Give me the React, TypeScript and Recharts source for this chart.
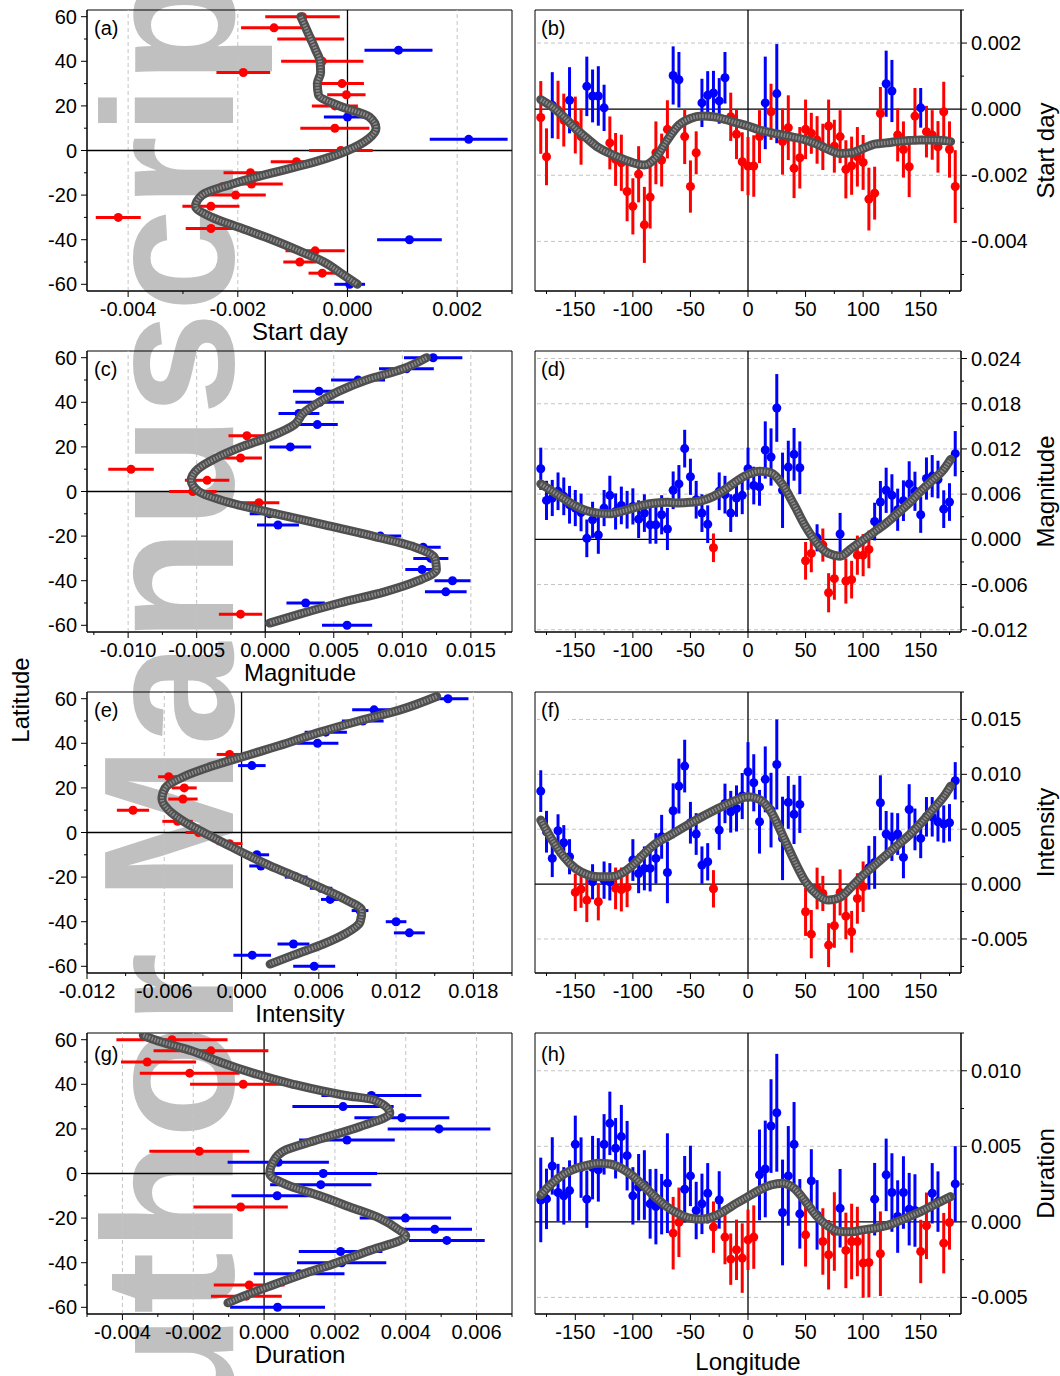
import React from 'react';
import { ScatterChart, Scatter, XAxis, YAxis, ErrorBar, ReferenceLine, ReferenceArea } from 'recharts';

const FONT = '"Liberation Sans", Arial, Helvetica, sans-serif';
const RED = '#ff0000';
const BLUE = '#0000ff';

// ---------- shared axes ----------
const LAT = [60, 55, 50, 45, 40, 35, 30, 25, 20, 15, 10, 5, 0, -5, -10, -15, -20, -25, -30, -35, -40, -45, -50, -55, -60];
const LAT_DOMAIN = [-63, 63];
const LAT_TICKS = [-60, -50, -40, -30, -20, -10, 0, 10, 20, 30, 40, 50, 60];
const LAT_LABELS = [-60, -40, -20, 0, 20, 40, 60];

const LON = [-180, -175, -170, -165, -160, -155, -150, -145, -140, -135, -130, -125,
  -120, -115, -110, -105, -100, -95, -90, -85, -80, -75, -70, -65,
  -60, -55, -50, -45, -40, -35, -30, -25, -20, -15, -10, -5,
  0, 5, 10, 15, 20, 25, 30, 35, 40, 45, 50, 55,
  60, 65, 70, 75, 80, 85, 90, 95, 100, 105, 110, 115,
  120, 125, 130, 135, 140, 145, 150, 155, 160, 165, 170, 175,
  180];
const LON_DOMAIN = [-185, 185];
const LON_TICKS = [-175, -150, -125, -100, -75, -50, -25, 0, 25, 50, 75, 100, 125, 150, 175];
const LON_LABELS = [-150, -100, -50, 0, 50, 100, 150];
const CURVE_LON = [-180, -170, -160, -150, -140, -130, -120, -110, -100, -90, -80, -70, -60, -50, -40, -30, -20, -10,
  0, 10, 20, 30, 40, 50, 60, 70, 80, 90, 100, 110, 120, 130, 140, 150, 160, 170, 176];

// ---------- (a) start day vs latitude ----------
const A_VAL = [-0.00082, -0.00134, -0.00067, 0.00093, -0.00046, -0.0019, -0.0001, -0.00002, -0.00023, 0.0, -0.00023, 0.00221, -0.00012,
  -0.00093, -0.00177, -0.00175, -0.00204, -0.00249, -0.00418, -0.00249, 0.00113, -0.00059, -0.00087, -0.00046, 0.00004];
const A_ERR = [0.00068, 0.0006, 0.00061, 0.00062, 0.00075, 0.00049, 0.0004, 0.00035, 0.00042, 0.00043, 0.00063, 0.00071, 0.00058,
  0.00047, 0.00049, 0.00057, 0.00055, 0.00052, 0.00041, 0.00046, 0.00059, 0.00054, 0.0003, 0.00025, 0.00028];
const A_CURVE_LAT = [60, 55, 50, 45, 40, 35, 30, 25, 20, 15, 10, 5, 0, -5, -10, -15, -20, -25, -30, -35, -40, -45, -50, -55, -60];
const A_CURVE = [-0.00085, -0.00076, -0.00067, -0.00058, -0.0005, -0.00049, -0.00055, -0.00053, -0.00015, 0.0004, 0.00052, 0.00037, 0.0,
  -0.00058, -0.00137, -0.0021, -0.00265, -0.00277, -0.00247, -0.00192, -0.00137, -0.00088, -0.00043, -0.00012, 0.00018];
const A_X_DOMAIN = [-0.00475, 0.003];
const A_X_TICKS = [-0.004, -0.003, -0.002, -0.001, 0, 0.001, 0.002, 0.003];
const A_X_LABELS = [-0.004, -0.002, 0, 0.002];
const A_X_GRID = [-0.004, -0.002, 0.002];

// ---------- (b) start day vs longitude ----------
const B_VAL = [-0.00025, -0.00144, 0.00012, -0.00002, -0.00033, 0.00027, -0.00048, -0.00083, 0.00069, 0.0004, 0.0004, 0.00004,
  -0.00102, -0.00152, -0.00162, -0.00249, -0.00294, -0.00197, -0.0035, -0.00266, -0.00132, -0.00154, -0.00061, 0.00102,
  0.00089, -0.00083, -0.00234, -0.00132, 0.00019, 0.00042, 0.00049, 0.00025, 0.00095, -0.00023, -0.00076, -0.00159,
  -0.00172, -0.00172, -0.00083, 0.00019, -0.00008, 0.00047, -0.00098, -0.00056, -0.00179, -0.00147, -0.00061, -0.00073,
  -0.00093, -0.00114, -0.00051, -0.00112, -0.00083, -0.00182, -0.00171, -0.00144, -0.00161, -0.00272, -0.00254, -0.00013,
  0.00077, 0.00055, -0.00078, -0.00122, -0.00174, -0.00021, 0.00004, -0.00068, -0.00078, -0.00114, -0.00008, -0.00122,
  -0.00234];
const B_ERR = [0.0011, 0.00086, 0.001, 0.00088, 0.0008, 0.001, 0.00086, 0.00085, 0.0009, 0.0008, 0.0009, 0.0007,
  0.0008, 0.0008, 0.00085, 0.0009, 0.00085, 0.00085, 0.00115, 0.00095, 0.00095, 0.0008, 0.00088, 0.00088,
  0.00084, 0.00083, 0.00079, 0.00065, 0.00073, 0.00073, 0.00067, 0.00069, 0.00078, 0.00073, 0.00075, 0.00089,
  0.00088, 0.00093, 0.0008, 0.0014, 0.00085, 0.0015, 0.001, 0.00098, 0.0009, 0.00093, 0.0009, 0.00062,
  0.00072, 0.0007, 0.0008, 0.0008, 0.0008, 0.00088, 0.00088, 0.0009, 0.00083, 0.00095, 0.0008, 0.0008,
  0.001, 0.00094, 0.0008, 0.00085, 0.00092, 0.00085, 0.0006, 0.00078, 0.00075, 0.00078, 0.00091, 0.00085,
  0.0011];
const B_CURVE = [0.00029, 0.00007, -0.00023, -0.00058, -0.00088, -0.00116, -0.00134, -0.00149, -0.00162, -0.00169, -0.00146, -0.00093,
  -0.00048, -0.00028, -0.00021, -0.00023, -0.00031, -0.00041, -0.00051, -0.00063, -0.00071, -0.00078, -0.00085, -0.00093,
  -0.00106, -0.00122, -0.00134, -0.00132, -0.00119, -0.00106, -0.00102, -0.00098, -0.00095, -0.00093, -0.00093, -0.00095, -0.00098];
const B_Y_DOMAIN = [-0.0055, 0.003];
const B_Y_TICKS = [-0.005, -0.004, -0.003, -0.002, -0.001, 0, 0.001, 0.002, 0.003];
const B_Y_LABELS = [-0.004, -0.002, 0, 0.002];
const B_Y_GRID = [-0.004, -0.002, 0.002];

// ---------- (c) magnitude vs latitude ----------
const C_VAL = [0.01225, 0.0103, 0.00677, 0.00392, 0.00397, 0.00246, 0.0038, -0.00134, 0.00183, -0.0018, -0.00979, -0.00424, -0.00528,
  -0.00046, 0.00032, 0.00093, 0.0084, 0.01152, 0.01208, 0.01144, 0.01366, 0.01317, 0.00295, -0.0018, 0.00597];
const C_ERR = [0.00213, 0.002, 0.00197, 0.0019, 0.00177, 0.00149, 0.00149, 0.00134, 0.00152, 0.00156, 0.00166, 0.00162, 0.00173,
  0.00149, 0.00145, 0.00153, 0.00152, 0.00128, 0.00128, 0.00122, 0.00131, 0.00152, 0.0014, 0.00158, 0.00183];
const C_CURVE_LAT = [60, 55, 50, 45, 40, 35, 30, 25, 20, 15, 10, 5, 0, -5, -10, -15, -20, -25, -30, -35, -40, -45, -50, -55, -59];
const C_CURVE = [0.01176, 0.01006, 0.00738, 0.00538, 0.00392, 0.00275, 0.00214, 0.00051, -0.00175, -0.00358, -0.00492, -0.0054, -0.00485,
  -0.0026, 0.0008, 0.00433, 0.00786, 0.01091, 0.01237, 0.01249, 0.01115, 0.00872, 0.00543, 0.00251, 0.00032];
const C_X_DOMAIN = [-0.013, 0.018];
const C_X_TICKS = [-0.0125, -0.01, -0.0075, -0.005, -0.0025, 0, 0.0025, 0.005, 0.0075, 0.01, 0.0125, 0.015, 0.0175];
const C_X_LABELS = [-0.01, -0.005, 0, 0.005, 0.01, 0.015];
const C_X_GRID = [-0.01, -0.005, 0.005, 0.01, 0.015];

// ---------- (d) magnitude vs longitude ----------
const D_VAL = [0.00937, 0.00517, 0.00549, 0.00638, 0.00571, 0.00459, 0.00415, 0.00357, 0.00013, 0.00259, 0.00058, 0.00415,
  0.00584, 0.0037, 0.0045, 0.00393, 0.00437, 0.00268, 0.00348, 0.00192, 0.00192, 0.00326, 0.00138, 0.00651,
  0.00736, 0.01204, 0.0083, 0.00526, 0.00348, 0.00201, -0.00112, 0.00638, 0.00593, 0.00348, 0.00549, 0.00584,
  0.00937, 0.00714, 0.00696, 0.01186, 0.01093, 0.01744, 0.00651, 0.00959, 0.01128, 0.0095, -0.00285, -0.00187,
  0.0002, -0.00076, -0.00709, -0.00522, 0.00071, -0.00553, -0.00535, -0.0021, -0.0021, -0.00134, 0.00236, 0.00495,
  0.00651, 0.00584, 0.00393, 0.00513, 0.00736, 0.00638, 0.00326, 0.00807, 0.00839, 0.00794, 0.00401, 0.00495,
  0.01137];
const D_ERR = [0.0028, 0.0026, 0.0024, 0.0025, 0.0025, 0.0025, 0.0024, 0.0025, 0.0025, 0.0024, 0.0025, 0.0024,
  0.0026, 0.0024, 0.0025, 0.0025, 0.0024, 0.0025, 0.0025, 0.0025, 0.0025, 0.0026, 0.0028, 0.0025,
  0.0025, 0.0025, 0.0024, 0.0025, 0.0025, 0.0025, 0.0019, 0.0025, 0.0025, 0.0025, 0.0025, 0.0025,
  0.0028, 0.0025, 0.0025, 0.0038, 0.0038, 0.0045, 0.005, 0.0035, 0.0035, 0.0035, 0.0025, 0.0025,
  0.0018, 0.0022, 0.0026, 0.0028, 0.0028, 0.003, 0.0025, 0.0026, 0.0028, 0.0025, 0.0025, 0.0028,
  0.003, 0.0028, 0.0028, 0.0027, 0.003, 0.0026, 0.0024, 0.0028, 0.0028, 0.0025, 0.0025, 0.0025,
  0.003];
const D_CURVE = [0.00736, 0.00638, 0.0054, 0.00446, 0.00379, 0.00348, 0.00339, 0.0037, 0.00415, 0.00459, 0.00482, 0.00491,
  0.00482, 0.00491, 0.00513, 0.00571, 0.0066, 0.00772, 0.00861, 0.00905, 0.00883, 0.00727, 0.00459, 0.0017,
  -0.00054, -0.00187, -0.00223, -0.0012, -0.00009, 0.00103, 0.00214, 0.00348, 0.00482, 0.00638, 0.00781, 0.00928, 0.01062];
const D_Y_DOMAIN = [-0.0123, 0.025];
const D_Y_TICKS = [-0.012, -0.009, -0.006, -0.003, 0, 0.003, 0.006, 0.009, 0.012, 0.015, 0.018, 0.021, 0.024];
const D_Y_LABELS = [-0.012, -0.006, 0, 0.006, 0.012, 0.018, 0.024];
const D_Y_GRID = [-0.012, -0.006, 0.006, 0.012, 0.018, 0.024];

// ---------- (e) intensity vs latitude ----------
const E_VAL = [0.01603, 0.01029, 0.00941, 0.00654, 0.0059, -0.00093, 0.0008, -0.00566, -0.00445, -0.00455, -0.00843, -0.00497, -0.00334,
  -0.00093, 0.00119, 0.0015, 0.00424, 0.00618, 0.00688, 0.0092, 0.012, 0.01303, 0.00403, 0.00083, 0.00564];
const E_ERR = [0.00159, 0.0017, 0.00162, 0.00164, 0.00162, 0.001, 0.00107, 0.00082, 0.00097, 0.00114, 0.00125, 0.00118, 0.001,
  0.001, 0.00095, 0.0009, 0.00088, 0.00087, 0.00071, 0.00065, 0.0008, 0.0012, 0.00124, 0.00146, 0.00163];
const E_CURVE_LAT = [61, 55, 50, 45, 40, 35, 30, 25, 20, 15, 10, 5, 0, -5, -10, -15, -20, -25, -30, -35, -40, -45, -50, -55, -59];
const E_CURVE = [0.01515, 0.01231, 0.00908, 0.0061, 0.00352, 0.00067, -0.00217, -0.0045, -0.00592, -0.00618, -0.00566, -0.0045, -0.00295,
  -0.00127, 0.00041, 0.00222, 0.00429, 0.00623, 0.00804, 0.00934, 0.00921, 0.00817, 0.00636, 0.00403, 0.00222];
const E_X_DOMAIN = [-0.012, 0.021];
const E_X_TICKS = [-0.012, -0.009, -0.006, -0.003, 0, 0.003, 0.006, 0.009, 0.012, 0.015, 0.018, 0.021];
const E_X_LABELS = [-0.012, -0.006, 0, 0.006, 0.012, 0.018];
const E_X_GRID = [-0.006, 0.006, 0.012, 0.018];

// ---------- (f) intensity vs longitude ----------
const F_VAL = [0.00847, 0.00477, 0.00234, 0.00486, 0.00377, 0.00249, -0.00076, -0.00046, -0.00146, 0.00021, -0.00161, 0.00036,
  0.00021, -0.00039, -0.00049, -0.0003, 0.00219, 0.00097, 0.00143, 0.00143, 0.00234, 0.00431, 0.00106, 0.00668,
  0.00893, 0.01075, 0.00559, 0.00456, 0.00173, 0.00203, -0.00043, 0.00492, 0.00735, 0.00659, 0.00689, 0.00802,
  0.01023, 0.00923, 0.00568, 0.00954, 0.00674, 0.0109, 0.00416, 0.00744, 0.00635, 0.00726, -0.00252, -0.00456,
  -0.0004, -0.00085, -0.00556, -0.0038, -0.00076, -0.00292, -0.00434, -0.00131, -0.00024, 0.00149, 0.00197, 0.00741,
  0.00456, 0.00431, 0.00456, 0.00243, 0.0068, 0.00498, 0.00416, 0.00613, 0.00613, 0.00568, 0.00547, 0.00559,
  0.00941];
const F_ERR = [0.0019, 0.0019, 0.0017, 0.0015, 0.0016, 0.0016, 0.0017, 0.0017, 0.002, 0.0016, 0.0017, 0.0017,
  0.0017, 0.0019, 0.002, 0.0018, 0.0019, 0.0018, 0.002, 0.0021, 0.0023, 0.002, 0.0028, 0.0025,
  0.0025, 0.0024, 0.0019, 0.0019, 0.0017, 0.0017, 0.0017, 0.0018, 0.0018, 0.0019, 0.0021, 0.0021,
  0.0027, 0.0026, 0.0029, 0.003, 0.0034, 0.0041, 0.0038, 0.0024, 0.0027, 0.0026, 0.0022, 0.0022,
  0.0019, 0.0016, 0.002, 0.002, 0.0021, 0.0021, 0.0019, 0.0023, 0.0023, 0.002, 0.0024, 0.0025,
  0.0021, 0.0022, 0.0019, 0.0019, 0.0023, 0.0019, 0.0018, 0.0018, 0.0018, 0.0018, 0.0017, 0.0017,
  0.0017];
const F_CURVE = [0.00583, 0.00401, 0.00249, 0.00143, 0.00088, 0.00067, 0.00067, 0.00097, 0.00173, 0.00279, 0.0037, 0.00431,
  0.00492, 0.00553, 0.00613, 0.00668, 0.0072, 0.00765, 0.00796, 0.00771, 0.00659, 0.00446, 0.00219, 0.00021,
  -0.00094, -0.00146, -0.00121, -0.00024, 0.00082, 0.00173, 0.00264, 0.00355, 0.00446, 0.00553, 0.00674, 0.00796, 0.00893];
const F_Y_DOMAIN = [-0.0081, 0.0175];
const F_Y_TICKS = [-0.0075, -0.005, -0.0025, 0, 0.0025, 0.005, 0.0075, 0.01, 0.0125, 0.015, 0.0175];
const F_Y_LABELS = [-0.005, 0, 0.005, 0.01, 0.015];
const F_Y_GRID = [-0.005, 0.005, 0.01, 0.015];

// ---------- (g) duration vs latitude ----------
const G_VAL = [-0.0026, -0.0015, -0.0033, -0.0021, -0.00059, 0.00303, 0.00223, 0.00389, 0.00494, 0.00234, -0.00183, 0.0004, 0.00167,
  0.0016, 0.00037, -0.00066, 0.00399, 0.00482, 0.00516, 0.00216, 0.00219, 0.00099, -0.00042, -0.0005, 0.00038];
const G_ERR = [0.00157, 0.00162, 0.00138, 0.00141, 0.0015, 0.00141, 0.00143, 0.00134, 0.00145, 0.00135, 0.00141, 0.00143, 0.00152,
  0.00143, 0.00129, 0.00133, 0.00129, 0.00105, 0.00107, 0.00118, 0.00126, 0.00128, 0.001, 0.001, 0.00134];
const G_CURVE_LAT = [62, 60, 55, 50, 45, 40, 35, 33, 27, 21, 15, 10, 5, 0, -5, -10, -15, -20, -25, -28, -35, -40, -45, -50, -55, -58];
const G_CURVE = [-0.00341, -0.00309, -0.00205, -0.00125, -0.00031, 0.00082, 0.0023, 0.0031, 0.00355, 0.0027, 0.00148, 0.00054, 0.00025,
  0.00016, 0.00063, 0.00157, 0.00242, 0.00326, 0.00378, 0.004, 0.0029, 0.00205, 0.00112, 0.00025, -0.00058, -0.00102];
const G_X_DOMAIN = [-0.005, 0.007];
const G_X_TICKS = [-0.005, -0.004, -0.003, -0.002, -0.001, 0, 0.001, 0.002, 0.003, 0.004, 0.005, 0.006, 0.007];
const G_X_LABELS = [-0.004, -0.002, 0, 0.002, 0.004, 0.006];
const G_X_GRID = [-0.004, -0.002, 0.002, 0.004, 0.006];

// ---------- (h) duration vs longitude ----------
const H_VAL = [0.00145, 0.00152, 0.0037, 0.00194, 0.00172, 0.00207, 0.00513, 0.00359, 0.0015, 0.00359, 0.00344, 0.00513,
  0.00652, 0.00487, 0.00564, 0.00438, 0.00172, 0.00229, 0.00244, 0.00119, 0.00101, 0.00117, 0.00256, -0.00075,
  -0.00003, 0.00216, 0.00304, 0.00075, 0.00119, 0.00189, -0.00035, 0.00145, -0.00101, -0.00247, -0.00185, -0.0024,
  -0.00119, -0.00101, 0.00311, 0.0035, 0.00634, 0.00722, 0.00062, 0.00304, 0.00513, 0.00053, -0.00086, 0.00271,
  0.00046, -0.0013, -0.00218, -0.00064, 0.0009, -0.00189, -0.0013, -0.0013, -0.00273, -0.00269, 0.0015, -0.00211,
  0.00311, 0.00194, 0.00035, 0.00194, 0.00084, 0.00075, -0.00196, -0.00026, 0.00189, 0.00134, -0.00141, -0.00004,
  0.00251];
const H_ERR = [0.0028, 0.002, 0.0019, 0.0019, 0.0019, 0.002, 0.0019, 0.002, 0.0019, 0.0021, 0.0021, 0.002,
  0.0021, 0.002, 0.0021, 0.0023, 0.0019, 0.0022, 0.0023, 0.0023, 0.0025, 0.002, 0.0033, 0.0024,
  0.0023, 0.0022, 0.002, 0.0019, 0.002, 0.002, 0.0017, 0.0019, 0.0018, 0.0017, 0.002, 0.0023,
  0.002, 0.0021, 0.003, 0.0032, 0.0031, 0.0039, 0.0035, 0.0033, 0.0028, 0.0023, 0.0021, 0.0021,
  0.0023, 0.0022, 0.0023, 0.0026, 0.0026, 0.0025, 0.0025, 0.0023, 0.0023, 0.0023, 0.0024, 0.0028,
  0.0024, 0.0026, 0.0024, 0.0024, 0.0024, 0.0024, 0.0021, 0.0022, 0.002, 0.002, 0.002, 0.0018,
  0.0025];
const H_CURVE = [0.00178, 0.00256, 0.00315, 0.00352, 0.00374, 0.00388, 0.00383, 0.00355, 0.00304, 0.00233, 0.00161, 0.00097,
  0.00053, 0.00024, 0.00018, 0.00035, 0.00075, 0.00123, 0.00167, 0.00211, 0.00244, 0.00256, 0.00222, 0.00134,
  0.00035, -0.00031, -0.00064, -0.00066, -0.00053, -0.00042, -0.00026, 0.00002, 0.00035, 0.00068, 0.00106, 0.00145, 0.00167];
const H_Y_DOMAIN = [-0.0061, 0.0125];
const H_Y_TICKS = [-0.005, -0.0025, 0, 0.0025, 0.005, 0.0075, 0.01, 0.0125];
const H_Y_LABELS = [-0.005, 0, 0.005, 0.01];
const H_Y_GRID = [-0.005, 0.005, 0.01];

// ---------- helpers ----------
const isMajor = (v: number, labels: number[]) => labels.some((l) => Math.abs(l - v) < 1e-9);
const fmt3 = (v: number) => (Math.abs(v) < 1e-12 ? '0.000' : v.toFixed(3));
const fmtInt = (v: number) => String(Math.round(v));

function makeTick(side: 'bottom' | 'left' | 'right', labels: number[], fmt: (v: number) => string) {
  return (props: any) => {
    const { x, y, payload } = props;
    const v = payload.value;
    const major = isMajor(v, labels);
    const len = major ? 6 : 3;
    const textProps = { fontFamily: FONT, fontSize: 20, fill: '#000' };
    if (side === 'bottom') {
      return (
        <g>
          <line x1={x} y1={y} x2={x} y2={y + len} stroke="#000" />
          {major && <text x={x} y={y + 25} textAnchor="middle" {...textProps}>{fmt(v)}</text>}
        </g>
      );
    }
    if (side === 'left') {
      return (
        <g>
          <line x1={x} y1={y} x2={x - len} y2={y} stroke="#000" />
          {major && <text x={x - 10} y={y + 7} textAnchor="end" {...textProps}>{fmt(v)}</text>}
        </g>
      );
    }
    return (
      <g>
        <line x1={x} y1={y} x2={x + len} y2={y} stroke="#000" />
        {major && <text x={x + 10} y={y + 7} textAnchor="start" {...textProps}>{fmt(v)}</text>}
      </g>
    );
  };
}

const noShape = () => <g />;
const ROW_TOPS = [10, 351, 692, 1033];
const PLOT_H = 281;

function DataLayers({ red, blue, curve, dir, joint }: any) {
  return [
    <Scatter key="r" data={red} fill={RED} isAnimationActive={false}>
      <ErrorBar dataKey="e" direction={dir} width={0} stroke={RED} strokeWidth={3} isAnimationActive={false} />
    </Scatter>,
    <Scatter key="b" data={blue} fill={BLUE} isAnimationActive={false}>
      <ErrorBar dataKey="e" direction={dir} width={0} stroke={BLUE} strokeWidth={3} isAnimationActive={false} />
    </Scatter>,
    <Scatter key="c1" data={curve} shape={noShape} line={{ stroke: '#4f4f4f', strokeWidth: 9, strokeLinecap: 'round' }}
      lineJointType={joint} isAnimationActive={false} />,
    <Scatter key="c2" data={curve} shape={noShape} line={{ stroke: '#8c8c8c', strokeWidth: 4, strokeDasharray: '1.5 1.5' }}
      lineJointType={joint} isAnimationActive={false} />,
  ];
}

function LatPanel(p: any) {
  const pts = LAT.map((lat, i) => ({ x: p.vals[i], y: lat, e: p.errs[i] }));
  const red = pts.filter((d) => d.x < 0);
  const blue = pts.filter((d) => d.x >= 0);
  const curve = p.curveLat.map((lat: number, i: number) => ({ x: p.curve[i], y: lat }));
  return (
    <div style={{ position: 'absolute', left: 0, top: p.top - 10 }}>
      <ScatterChart width={520} height={PLOT_H + 50} margin={{ top: 10, right: 8, bottom: 0, left: 0 }}>
        <XAxis type="number" dataKey="x" domain={p.xDomain} ticks={p.xTicks} allowDataOverflow interval={0} height={40}
          tickSize={0} tickMargin={0} tickLine={false} axisLine={{ stroke: '#000' }} tick={makeTick('bottom', p.xLabels, fmt3)} />
        <YAxis type="number" dataKey="y" domain={LAT_DOMAIN} ticks={LAT_TICKS} allowDataOverflow interval={0} width={87}
          tickSize={0} tickMargin={0} tickLine={false} axisLine={{ stroke: '#000' }} tick={makeTick('left', LAT_LABELS, fmtInt)} />
        <ReferenceArea x1={p.xDomain[0]} x2={p.xDomain[1]} y1={LAT_DOMAIN[0]} y2={LAT_DOMAIN[1]} fill="none" stroke="#000" />
        {p.xGrid.map((g: number) => (
          <ReferenceLine key={g} x={g} stroke="#c4c4c4" strokeDasharray="4 3" />
        ))}
        <ReferenceLine x={0} stroke="#000" strokeWidth={1.3} />
        <ReferenceLine y={0} stroke="#000" strokeWidth={1.3} />
        {DataLayers({ red, blue, curve, dir: 'x', joint: 'monotoneY' })}
      </ScatterChart>
    </div>
  );
}

function LonPanel(p: any) {
  const pts = LON.map((lon, i) => ({ x: lon, y: p.vals[i], e: p.errs[i] }));
  const red = pts.filter((d) => d.y < 0);
  const blue = pts.filter((d) => d.y >= 0);
  const curve = CURVE_LON.map((lon, i) => ({ x: lon, y: p.curve[i] }));
  return (
    <div style={{ position: 'absolute', left: 527, top: p.top - 10 }}>
      <ScatterChart width={533} height={PLOT_H + 50} margin={{ top: 10, right: 0, bottom: 0, left: 8 }}>
        <XAxis type="number" dataKey="x" domain={LON_DOMAIN} ticks={LON_TICKS} allowDataOverflow interval={0} height={40}
          tickSize={0} tickMargin={0} tickLine={false} axisLine={{ stroke: '#000' }} tick={makeTick('bottom', LON_LABELS, fmtInt)} />
        <YAxis type="number" dataKey="y" orientation="right" domain={p.yDomain} ticks={p.yTicks} allowDataOverflow interval={0}
          width={99} tickSize={0} tickMargin={0} tickLine={false} axisLine={{ stroke: '#000' }}
          tick={makeTick('right', p.yLabels, fmt3)} />
        <ReferenceArea x1={LON_DOMAIN[0]} x2={LON_DOMAIN[1]} y1={p.yDomain[0]} y2={p.yDomain[1]} fill="none" stroke="#000" />
        {p.yGrid.map((g: number) => (
          <ReferenceLine key={g} y={g} stroke="#c4c4c4" strokeDasharray="4 3" />
        ))}
        <ReferenceLine x={0} stroke="#000" strokeWidth={1.3} />
        <ReferenceLine y={0} stroke="#000" strokeWidth={1.3} />
        {DataLayers({ red, blue, curve, dir: 'y', joint: 'monotoneX' })}
      </ScatterChart>
    </div>
  );
}

const LEFT_TITLES = ['Start day', 'Magnitude', 'Intensity', 'Duration'];
const PANEL_LABELS = ['(a)', '(b)', '(c)', '(d)', '(e)', '(f)', '(g)', '(h)'];

export default function App() {
  const t = { fontFamily: FONT, fill: '#000' };
  return (
    <div style={{ position: 'absolute', left: 0, top: 0, width: 1060, height: 1376, overflow: 'hidden', background: '#fff' }}>
      <svg width={1060} height={1376} style={{ position: 'absolute', left: 0, top: 0 }}>
        <text x={233} y={1562} transform="rotate(-90 233 1562)" fontFamily={FONT} fontWeight="bold" fontSize={186} fill="#c0c0c0">
          Author Manuscript
        </text>
      </svg>

      <LatPanel top={ROW_TOPS[0]} vals={A_VAL} errs={A_ERR} curveLat={A_CURVE_LAT} curve={A_CURVE}
        xDomain={A_X_DOMAIN} xTicks={A_X_TICKS} xLabels={A_X_LABELS} xGrid={A_X_GRID} />
      <LonPanel top={ROW_TOPS[0]} vals={B_VAL} errs={B_ERR} curve={B_CURVE}
        yDomain={B_Y_DOMAIN} yTicks={B_Y_TICKS} yLabels={B_Y_LABELS} yGrid={B_Y_GRID} />
      <LatPanel top={ROW_TOPS[1]} vals={C_VAL} errs={C_ERR} curveLat={C_CURVE_LAT} curve={C_CURVE}
        xDomain={C_X_DOMAIN} xTicks={C_X_TICKS} xLabels={C_X_LABELS} xGrid={C_X_GRID} />
      <LonPanel top={ROW_TOPS[1]} vals={D_VAL} errs={D_ERR} curve={D_CURVE}
        yDomain={D_Y_DOMAIN} yTicks={D_Y_TICKS} yLabels={D_Y_LABELS} yGrid={D_Y_GRID} />
      <LatPanel top={ROW_TOPS[2]} vals={E_VAL} errs={E_ERR} curveLat={E_CURVE_LAT} curve={E_CURVE}
        xDomain={E_X_DOMAIN} xTicks={E_X_TICKS} xLabels={E_X_LABELS} xGrid={E_X_GRID} />
      <LonPanel top={ROW_TOPS[2]} vals={F_VAL} errs={F_ERR} curve={F_CURVE}
        yDomain={F_Y_DOMAIN} yTicks={F_Y_TICKS} yLabels={F_Y_LABELS} yGrid={F_Y_GRID} />
      <LatPanel top={ROW_TOPS[3]} vals={G_VAL} errs={G_ERR} curveLat={G_CURVE_LAT} curve={G_CURVE}
        xDomain={G_X_DOMAIN} xTicks={G_X_TICKS} xLabels={G_X_LABELS} xGrid={G_X_GRID} />
      <LonPanel top={ROW_TOPS[3]} vals={H_VAL} errs={H_ERR} curve={H_CURVE}
        yDomain={H_Y_DOMAIN} yTicks={H_Y_TICKS} yLabels={H_Y_LABELS} yGrid={H_Y_GRID} />

      <svg width={1060} height={1376} style={{ position: 'absolute', left: 0, top: 0, pointerEvents: 'none' }}>
        {ROW_TOPS.map((top, r) => {
          const extra = r === 3 ? 3 : 0;
          return (
            <g key={r}>
              <rect x={93} y={top + 8 + extra} width={28} height={23} fill="#fff" />
              <text x={94} y={top + 25 + extra} fontSize={20} {...t}>{PANEL_LABELS[r * 2]}</text>
              <rect x={540} y={top + 8 + extra} width={28} height={23} fill="#fff" />
              <text x={541} y={top + 25 + extra} fontSize={20} {...t}>{PANEL_LABELS[r * 2 + 1]}</text>
              <text x={300} y={top + PLOT_H + 49} fontSize={24} textAnchor="middle" {...t}>{LEFT_TITLES[r]}</text>
              <text x={1054} y={top + PLOT_H / 2} fontSize={24} textAnchor="middle" transform={`rotate(-90 1054 ${top + PLOT_H / 2})`} {...t}>
                {LEFT_TITLES[r]}
              </text>
            </g>
          );
        })}
        <text x={29} y={700} fontSize={24} textAnchor="middle" transform="rotate(-90 29 700)" {...t}>Latitude</text>
        <text x={748} y={1370} fontSize={24} textAnchor="middle" {...t}>Longitude</text>
      </svg>
    </div>
  );
}
